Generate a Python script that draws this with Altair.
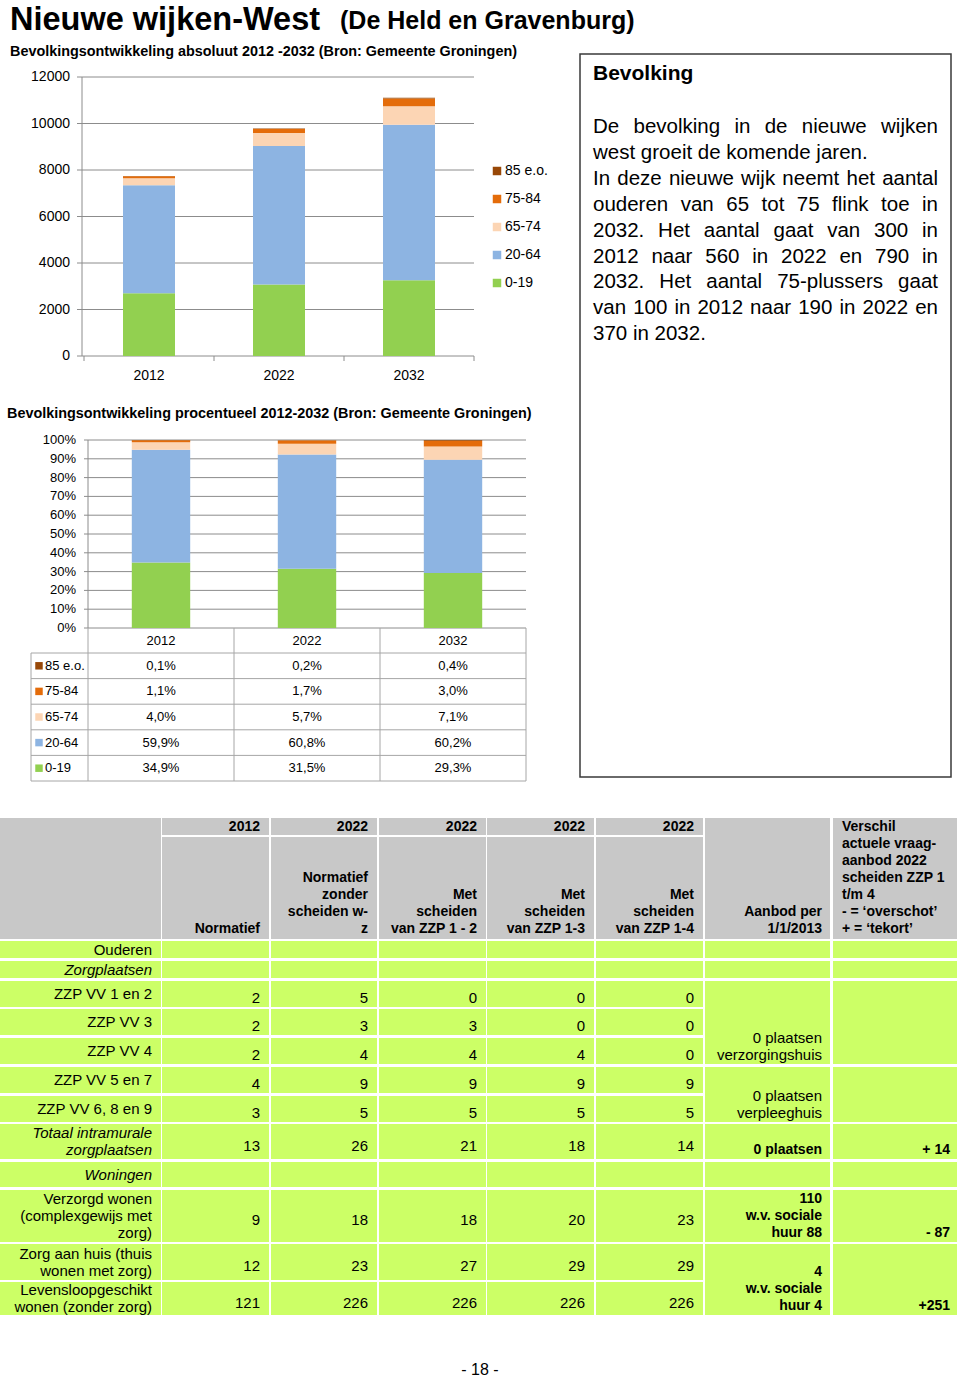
import altair as alt
import pandas as pd

# ------------------------------------------------------------------ data
YEARS = ["2012", "2022", "2032"]
AGE_GROUPS = ["0-19", "20-64", "65-74", "75-84", "85 e.o."]
AGE_COLORS = ["#92D050", "#8DB4E2", "#FCD5B4", "#E46C0A", "#984807"]

ABS_0_19 = [2700, 3080, 3260]
ABS_20_64 = [4640, 5950, 6690]
ABS_65_74 = [310, 560, 790]
ABS_75_84 = [85, 170, 330]
ABS_85_PLUS = [10, 20, 40]
ABS_TICKS = [0, 2000, 4000, 6000, 8000, 10000, 12000]

PCT_0_19 = [34.9, 31.5, 29.3]
PCT_20_64 = [59.9, 60.8, 60.2]
PCT_65_74 = [4.0, 5.7, 7.1]
PCT_75_84 = [1.1, 1.7, 3.0]
PCT_85_PLUS = [0.1, 0.2, 0.4]
PCT_TICKS = [0, 10, 20, 30, 40, 50, 60, 70, 80, 90, 100]

PAGE_TITLE = "Nieuwe wijken-West"
PAGE_SUBTITLE = "(De Held en Gravenburg)"
ABS_TITLE = "Bevolkingsontwikkeling absoluut 2012 -2032 (Bron: Gemeente Groningen)"
PCT_TITLE = "Bevolkingsontwikkeling procentueel 2012-2032 (Bron: Gemeente Groningen)"
BOX_TITLE = "Bevolking"
BOX_LINES = [
    "De bevolking in de nieuwe wijken",
    "west groeit de komende jaren.",
    "In deze nieuwe wijk neemt het aantal",
    "ouderen van 65 tot 75 flink toe in",
    "2032. Het aantal gaat van 300 in",
    "2012 naar 560 in 2022 en 790 in",
    "2032. Het aantal 75-plussers gaat",
    "van 100 in 2012 naar 190 in 2022 en",
    "370 in 2032.",
]
BOX_JUSTIFY = [True, False, True, True, True, True, True, True, False]
PAGE_NUMBER = "- 18 -"

# care table
T_YEAR_HEAD = ["2012", "2022", "2022", "2022", "2022"]
T_COL_HEAD = [
    ["Normatief"],
    ["Normatief", "zonder", "scheiden w-", "z"],
    ["Met", "scheiden", "van ZZP 1 - 2"],
    ["Met", "scheiden", "van ZZP 1-3"],
    ["Met", "scheiden", "van ZZP 1-4"],
]
T_AANBOD_HEAD = ["Aanbod per", "1/1/2013"]
T_VERSCHIL_HEAD = ["Verschil", "actuele vraag-", "aanbod 2022", "scheiden ZZP 1",
                   "t/m 4", "- = \u2018overschot\u2019", "+ = \u2018tekort\u2019"]
T_ROW_LABELS = [
    ["Ouderen"], ["Zorgplaatsen"], ["ZZP VV 1 en 2"], ["ZZP VV 3"], ["ZZP VV 4"],
    ["ZZP VV 5 en 7"], ["ZZP VV 6, 8 en 9"], ["Totaal intramurale", "zorgplaatsen"],
    ["Woningen"], ["Verzorgd wonen", "(complexgewijs met", "zorg)"],
    ["Zorg aan huis (thuis", "wonen met zorg)"], ["Levensloopgeschikt", "wonen (zonder zorg)"],
]
T_ROW_ITALIC = [False, True, False, False, False, False, False, True, True, False, False, False]
T_NORM_2012 = [None, None, 2, 2, 2, 4, 3, 13, None, 9, 12, 121]
T_NORM_2022 = [None, None, 5, 3, 4, 9, 5, 26, None, 18, 23, 226]
T_ZZP_1_2 = [None, None, 0, 3, 4, 9, 5, 21, None, 18, 27, 226]
T_ZZP_1_3 = [None, None, 0, 0, 4, 9, 5, 18, None, 20, 29, 226]
T_ZZP_1_4 = [None, None, 0, 0, 0, 9, 5, 14, None, 23, 29, 226]
T_VALUE_COLS = [T_NORM_2012, T_NORM_2022, T_ZZP_1_2, T_ZZP_1_3, T_ZZP_1_4]
# merged cells of the last two columns: (first row, last row, text lines)
T_AANBOD = [(0, 0, []), (1, 1, []), (2, 4, ["0 plaatsen", "verzorgingshuis"]),
            (5, 6, ["0 plaatsen", "verpleeghuis"]), (7, 7, ["0 plaatsen"]), (8, 8, []),
            (9, 9, ["110", "w.v. sociale", "huur 88"]), (10, 11, ["4", "w.v. sociale", "huur 4"])]
T_VERSCHIL = [(0, 0, []), (1, 1, []), (2, 4, []), (5, 6, []), (7, 7, ["+ 14"]), (8, 8, []),
              (9, 9, ["- 87"]), (10, 11, ["+251"])]

# ------------------------------------------------------------------ styles / layout
FONT = "Liberation Sans"
GRID = "#8C8C8C"
TLINE = "#A6A6A6"
HEAD_GRAY = "#C8C8C8"
ROW_GREEN = "#CCFF66"
BOX_STROKE = "#3A3A3A"
T_AANBOD_BOLD = [False, False, False, False, True, False, True, True]

ABS_X_RANGE = [84, 474]
ABS_Y_RANGE = [356, 77]
ABS_AXIS_X = 82
PCT_X_RANGE = [88, 526]
PCT_Y_RANGE = [628, 440]
PCT_TABLE_Y = [653, 781]
PCT_TABLE_LEFT = 31

COL_X = [(0, 161), (162, 269), (271, 377), (379, 486), (487, 594), (596, 703), (705, 830), (833, 957)]
HEAD_Y = [(818, 835), (837, 939)]
ROW_Y = [(941, 958), (961, 978), (981, 1007), (1009, 1035), (1038, 1064), (1067, 1093),
         (1096, 1122), (1124, 1159), (1162, 1187), (1190, 1242), (1244, 1280), (1282, 1315)]
LH = 17

BOX = (580, 951, 54, 777)
BOX_LEFT, BOX_RIGHT = 593, 938
BODY_SIZE = 20.5
BOX_FIRST = 127
BOX_LH = 25.9

# Arial / Liberation Sans advance widths (1/1000 em) for justification
AW = {" ": 278, ".": 278, "-": 333, "D": 722, "H": 722, "I": 278,
      "a": 556, "b": 556, "c": 500, "d": 556, "e": 556, "f": 278, "g": 556, "h": 556,
      "i": 222, "j": 222, "k": 500, "l": 222, "m": 833, "n": 556, "o": 556, "p": 556,
      "q": 556, "r": 333, "s": 500, "t": 278, "u": 556, "v": 500, "w": 722, "x": 500,
      "y": 500, "z": 500}


def text_w(s, size):
    return sum(AW.get(c, 556) for c in s) * size / 1000.0


def pix_text(rows, **kw):
    df = pd.DataFrame(rows)
    return alt.Chart(df).mark_text(font=FONT, color="#000000", **kw).encode(
        x=alt.X("x:Q", scale=None, axis=None), y=alt.Y("y:Q", scale=None, axis=None), text="t:N")


def pix_rect(rows, **kw):
    df = pd.DataFrame(rows)
    return alt.Chart(df).mark_rect(**kw).encode(
        x=alt.X("x:Q", scale=None, axis=None), x2="x2:Q",
        y=alt.Y("y:Q", scale=None, axis=None), y2="y2:Q",
        color=alt.Color("fill:N", scale=None, legend=None))


layers = []

# ------------------------------------------------------------------ headings
layers.append(pix_text([{"x": 10, "y": 29.5, "t": PAGE_TITLE}], align="left", baseline="alphabetic",
                       fontSize=32.5, fontWeight="bold"))
layers.append(pix_text([{"x": 340, "y": 29, "t": PAGE_SUBTITLE}], align="left", baseline="alphabetic",
                       fontSize=25, fontWeight="bold"))
layers.append(pix_text([{"x": 10, "y": 56, "t": ABS_TITLE}, {"x": 7, "y": 418, "t": PCT_TITLE}],
                       align="left", baseline="alphabetic", fontSize=14.4, fontWeight="bold"))

# ------------------------------------------------------------------ text box
layers.append(alt.Chart(pd.DataFrame({"k": [0]})).mark_rect(
    fill="#FFFFFF", stroke=BOX_STROKE, strokeWidth=1.5).encode(
    x=alt.value(BOX[0]), x2=alt.value(BOX[1]), y=alt.value(BOX[2]), y2=alt.value(BOX[3])))
layers.append(pix_text([{"x": BOX_LEFT, "y": 74, "t": BOX_TITLE}], align="left", baseline="middle",
                       fontSize=21, fontWeight="bold"))
left_words, right_words = [], []
for i, (line, just) in enumerate(zip(BOX_LINES, BOX_JUSTIFY)):
    yy = BOX_FIRST + i * BOX_LH
    if not just:
        left_words.append({"x": BOX_LEFT, "y": yy, "t": line})
        continue
    words = line.split(" ")
    ws = [text_w(w, BODY_SIZE) for w in words]
    gap = (BOX_RIGHT - BOX_LEFT - sum(ws)) / (len(words) - 1)
    xp = BOX_LEFT
    for j, (w, wd) in enumerate(zip(words, ws)):
        if j == len(words) - 1:
            right_words.append({"x": BOX_RIGHT, "y": yy, "t": w})
        else:
            left_words.append({"x": xp, "y": yy, "t": w})
        xp += wd + gap
layers.append(pix_text(left_words, align="left", baseline="middle", fontSize=BODY_SIZE))
layers.append(pix_text(right_words, align="right", baseline="middle", fontSize=BODY_SIZE))

# ------------------------------------------------------------------ absolute chart
age_color = alt.Scale(domain=AGE_GROUPS, range=AGE_COLORS)
abs_rows = []
for k, (g, vals) in enumerate(zip(AGE_GROUPS, [ABS_0_19, ABS_20_64, ABS_65_74, ABS_75_84, ABS_85_PLUS])):
    for yr, v in zip(YEARS, vals):
        abs_rows.append({"year": yr, "group": g, "value": v, "k": k})
abs_df = pd.DataFrame(abs_rows)

abs_xs = alt.Scale(type="band", domain=YEARS, range=ABS_X_RANGE, paddingInner=0.6, paddingOuter=0.3)
abs_ys = alt.Scale(domain=[min(ABS_TICKS), max(ABS_TICKS)], range=ABS_Y_RANGE, nice=False, zero=False)
abs_bs = alt.Scale(domain=[0, len(YEARS)], range=ABS_X_RANGE)
abs_tick_df = pd.DataFrame({"v": ABS_TICKS, "lab": [str(t) for t in ABS_TICKS]})

layers.append(alt.Chart(abs_tick_df).mark_rule(color=GRID, strokeWidth=1).encode(
    y=alt.Y("v:Q", scale=abs_ys, axis=None), x=alt.value(ABS_AXIS_X), x2=alt.value(ABS_X_RANGE[1])))
layers.append(alt.Chart(abs_df).mark_bar().encode(
    x=alt.X("year:N", scale=abs_xs, axis=None),
    y=alt.Y("value:Q", scale=abs_ys, stack="zero", axis=None),
    color=alt.Color("group:N", scale=age_color, legend=None),
    order=alt.Order("k:Q", sort="ascending")))
layers.append(alt.Chart(abs_tick_df).mark_rule(color=GRID).encode(
    y=alt.Y("v:Q", scale=abs_ys, axis=None), x=alt.value(ABS_AXIS_X - 5), x2=alt.value(ABS_AXIS_X)))
layers.append(alt.Chart(pd.DataFrame({"lo": [min(ABS_TICKS)], "hi": [max(ABS_TICKS)]})).mark_rule(
    color=GRID).encode(y=alt.Y("lo:Q", scale=abs_ys, axis=None), y2="hi:Q", x=alt.value(ABS_AXIS_X)))
layers.append(alt.Chart(abs_tick_df).mark_text(font=FONT, fontSize=14, align="right", baseline="middle",
                                               color="#000000").encode(
    y=alt.Y("v:Q", scale=abs_ys, axis=None), x=alt.value(70), text="lab:N"))
layers.append(alt.Chart(pd.DataFrame({"b": list(range(len(YEARS) + 1))})).mark_rule(color=GRID).encode(
    x=alt.X("b:Q", scale=abs_bs, axis=None), y=alt.value(ABS_Y_RANGE[0]), y2=alt.value(ABS_Y_RANGE[0] + 5)))
layers.append(alt.Chart(pd.DataFrame({"year": YEARS})).mark_text(font=FONT, fontSize=14, baseline="middle",
                                                                  color="#000000").encode(
    x=alt.X("year:N", scale=abs_xs, axis=None, bandPosition=0.5), y=alt.value(376), text="year:N"))
leg_df = pd.DataFrame({"group": AGE_GROUPS[::-1]})
leg_ys = alt.Scale(type="point", domain=AGE_GROUPS[::-1], range=[171, 283], padding=0)
layers.append(alt.Chart(leg_df).mark_square(size=72, opacity=1).encode(
    x=alt.value(497), y=alt.Y("group:N", scale=leg_ys, axis=None),
    color=alt.Color("group:N", scale=age_color, legend=None)))
layers.append(alt.Chart(leg_df).mark_text(font=FONT, fontSize=14, align="left", baseline="middle",
                                          color="#000000").encode(
    x=alt.value(505), y=alt.Y("group:N", scale=leg_ys, axis=None), text="group:N"))

# ------------------------------------------------------------------ percentage chart
pct_rows = []
for k, (g, vals) in enumerate(zip(AGE_GROUPS, [PCT_0_19, PCT_20_64, PCT_65_74, PCT_75_84, PCT_85_PLUS])):
    for yr, v in zip(YEARS, vals):
        pct_rows.append({"year": yr, "group": g, "value": v, "k": k,
                         "lab": ("%.1f%%" % v).replace(".", ",")})
pct_df = pd.DataFrame(pct_rows)
pct_xs = alt.Scale(type="band", domain=YEARS, range=PCT_X_RANGE, paddingInner=0.6, paddingOuter=0.3)
pct_ys = alt.Scale(domain=[min(PCT_TICKS), max(PCT_TICKS)], range=PCT_Y_RANGE, nice=False, zero=False)
pct_bs = alt.Scale(domain=[0, len(YEARS)], range=PCT_X_RANGE)
pct_tick_df = pd.DataFrame({"v": PCT_TICKS, "lab": ["%d%%" % t for t in PCT_TICKS]})
rows_rev = AGE_GROUPS[::-1]
pct_row_s = alt.Scale(type="point", domain=rows_rev, range=PCT_TABLE_Y, padding=0.5)
pct_edge_s = alt.Scale(domain=[0, len(rows_rev)], range=PCT_TABLE_Y)

layers.append(alt.Chart(pct_tick_df).mark_rule(color=GRID).encode(
    y=alt.Y("v:Q", scale=pct_ys, axis=None), x=alt.value(PCT_X_RANGE[0] - 4), x2=alt.value(PCT_X_RANGE[1])))
layers.append(alt.Chart(pct_df).mark_bar().encode(
    x=alt.X("year:N", scale=pct_xs, axis=None),
    y=alt.Y("value:Q", scale=pct_ys, stack="zero", axis=None),
    color=alt.Color("group:N", scale=age_color, legend=None),
    order=alt.Order("k:Q", sort="ascending")))
layers.append(alt.Chart(pct_tick_df).mark_text(font=FONT, fontSize=13, align="right", baseline="middle",
                                               color="#000000").encode(
    y=alt.Y("v:Q", scale=pct_ys, axis=None), x=alt.value(76), text="lab:N"))
layers.append(alt.Chart(pd.DataFrame({"lo": [min(PCT_TICKS)], "hi": [max(PCT_TICKS)]})).mark_rule(
    color=GRID).encode(y=alt.Y("lo:Q", scale=pct_ys, axis=None), y2="hi:Q", x=alt.value(PCT_X_RANGE[0])))
# data table under the percentage chart
layers.append(alt.Chart(pd.DataFrame({"k": list(range(len(rows_rev) + 1))})).mark_rule(color=TLINE).encode(
    y=alt.Y("k:Q", scale=pct_edge_s, axis=None), x=alt.value(PCT_TABLE_LEFT), x2=alt.value(PCT_X_RANGE[1])))
layers.append(alt.Chart(pd.DataFrame({"b": list(range(len(YEARS) + 1))})).mark_rule(color=TLINE).encode(
    x=alt.X("b:Q", scale=pct_bs, axis=None), y=alt.value(PCT_Y_RANGE[0]), y2=alt.value(PCT_TABLE_Y[1])))
layers.append(alt.Chart(pd.DataFrame({"k": [0]})).mark_rule(color=TLINE).encode(
    x=alt.value(PCT_TABLE_LEFT), y=alt.value(PCT_TABLE_Y[0]), y2=alt.value(PCT_TABLE_Y[1])))
layers.append(alt.Chart(pd.DataFrame({"year": YEARS})).mark_text(font=FONT, fontSize=13, baseline="middle",
                                                                  color="#000000").encode(
    x=alt.X("year:N", scale=pct_xs, axis=None, bandPosition=0.5), y=alt.value(641), text="year:N"))
layers.append(alt.Chart(pct_df).mark_text(font=FONT, fontSize=13, baseline="middle", color="#000000").encode(
    x=alt.X("year:N", scale=pct_xs, axis=None, bandPosition=0.5),
    y=alt.Y("group:N", scale=pct_row_s, axis=None), text="lab:N"))
pleg = pd.DataFrame({"group": rows_rev})
layers.append(alt.Chart(pleg).mark_square(size=56, opacity=1).encode(
    x=alt.value(39), y=alt.Y("group:N", scale=pct_row_s, axis=None),
    color=alt.Color("group:N", scale=age_color, legend=None)))
layers.append(alt.Chart(pleg).mark_text(font=FONT, fontSize=13, align="left", baseline="middle",
                                        color="#000000").encode(
    x=alt.value(45), y=alt.Y("group:N", scale=pct_row_s, axis=None), text="group:N"))

# ------------------------------------------------------------------ care table
cells = []
cells.append({"x": COL_X[0][0], "x2": COL_X[0][1], "y": HEAD_Y[0][0], "y2": HEAD_Y[1][1], "fill": HEAD_GRAY})
for c in range(1, 6):
    for (y0, y1) in HEAD_Y:
        cells.append({"x": COL_X[c][0], "x2": COL_X[c][1], "y": y0, "y2": y1, "fill": HEAD_GRAY})
for c in (6, 7):
    cells.append({"x": COL_X[c][0], "x2": COL_X[c][1], "y": HEAD_Y[0][0], "y2": HEAD_Y[1][1], "fill": HEAD_GRAY})
for r, (y0, y1) in enumerate(ROW_Y):
    for c in range(0, 6):
        cells.append({"x": COL_X[c][0], "x2": COL_X[c][1], "y": y0, "y2": y1, "fill": ROW_GREEN})
for c, spans in ((6, T_AANBOD), (7, T_VERSCHIL)):
    for (a, b, _lines) in spans:
        cells.append({"x": COL_X[c][0], "x2": COL_X[c][1], "y": ROW_Y[a][0], "y2": ROW_Y[b][1],
                      "fill": ROW_GREEN})
layers.append(pix_rect(cells))

bold_right, bold_left, reg_right, ital_right = [], [], [], []
head_mid = (HEAD_Y[0][0] + HEAD_Y[0][1]) / 2.0
for c in range(5):
    bold_right.append({"x": COL_X[c + 1][1] - 9, "y": head_mid, "t": T_YEAR_HEAD[c]})
    lines = T_COL_HEAD[c]
    for i, ln in enumerate(lines):
        bold_right.append({"x": COL_X[c + 1][1] - 9, "y": HEAD_Y[1][1] - 10 - (len(lines) - 1 - i) * LH, "t": ln})
for i, ln in enumerate(T_AANBOD_HEAD):
    bold_right.append({"x": COL_X[6][1] - 8, "y": HEAD_Y[1][1] - 10 - (len(T_AANBOD_HEAD) - 1 - i) * LH, "t": ln})
for i, ln in enumerate(T_VERSCHIL_HEAD):
    bold_left.append({"x": COL_X[7][0] + 9, "y": HEAD_Y[0][0] + 9 + i * LH, "t": ln})
for r, (y0, y1) in enumerate(ROW_Y):
    mid = (y0 + y1) / 2.0
    lines = T_ROW_LABELS[r]
    for i, ln in enumerate(lines):
        item = {"x": COL_X[0][1] - 9, "y": mid - (len(lines) - 1) * LH / 2.0 + i * LH, "t": ln}
        (ital_right if T_ROW_ITALIC[r] else reg_right).append(item)
    for c, col in enumerate(T_VALUE_COLS):
        if col[r] is not None:
            reg_right.append({"x": COL_X[c + 1][1] - 9, "y": mid + 4, "t": str(col[r])})
for (a, b, lines), bold in zip(T_AANBOD, T_AANBOD_BOLD):
    for i, ln in enumerate(lines):
        item = {"x": COL_X[6][1] - 8, "y": ROW_Y[b][1] - 9 - (len(lines) - 1 - i) * LH, "t": ln}
        (bold_right if bold else reg_right).append(item)
for (a, b, lines) in T_VERSCHIL:
    for i, ln in enumerate(lines):
        bold_right.append({"x": COL_X[7][1] - 7, "y": ROW_Y[b][1] - 9 - (len(lines) - 1 - i) * LH, "t": ln})

layers.append(pix_text(bold_right, align="right", baseline="middle", fontSize=14, fontWeight="bold"))
layers.append(pix_text(bold_left, align="left", baseline="middle", fontSize=14, fontWeight="bold"))
layers.append(pix_text(reg_right, align="right", baseline="middle", fontSize=15))
layers.append(pix_text(ital_right, align="right", baseline="middle", fontSize=15, fontStyle="italic"))

# ------------------------------------------------------------------ page number
layers.append(pix_text([{"x": 480, "y": 1370, "t": PAGE_NUMBER}], align="center", baseline="middle", fontSize=16))

chart = alt.layer(*layers).resolve_scale(
    x="independent", y="independent", color="independent"
).properties(
    width=960, height=1377, autosize=alt.AutoSizeParams(type="none"), padding=0, background="#FFFFFF"
).configure_view(stroke=None)

chart.save("out.html", embed_options={"renderer": "svg", "actions": False})
